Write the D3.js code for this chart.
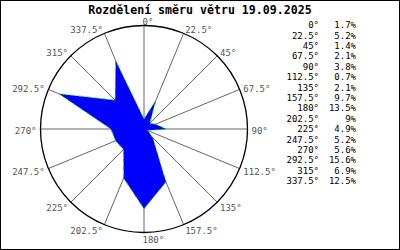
<!DOCTYPE html>
<html><head><meta charset="utf-8">
<script src="https://cdn.jsdelivr.net/npm/d3@7"></script>
<style>body{margin:0;background:#fff}svg{display:block}</style>
</head><body><svg id="c" width="400" height="250"></svg>
<script>
const title = "Rozdělení směru větru 19.09.2025";
const directions = [0, 22.5, 45, 67.5, 90, 112.5, 135, 157.5, 180, 202.5, 225, 247.5, 270, 292.5, 315, 337.5];
const dirLabels = ["0°","22.5°","45°","67.5°","90°","112.5°","135°","157.5°","180°","202.5°","225°","247.5°","270°","292.5°","315°","337.5°"];
const values = [1.7, 5.2, 1.4, 2.1, 3.8, 0.7, 2.1, 9.7, 13.5, 9, 4.9, 5.2, 5.6, 15.6, 6.9, 12.5];
const valueLabels = ["1.7%","5.2%","1.4%","2.1%","3.8%","0.7%","2.1%","9.7%","13.5%","9%","4.9%","5.2%","5.6%","15.6%","6.9%","12.5%"];

const svg = d3.select("#c");
const W = 400, H = 250;
const cx = 144, cy = 129, R = 103.5;
const r = d3.scaleLinear().domain([0, 17.5]).range([0, R]);
const ang = d3.scaleLinear().domain([0, 360]).range([0, 2 * Math.PI]);
const font = "'DejaVu Sans Mono', monospace";

svg.append("rect").attr("x", 0.5).attr("y", 0.5).attr("width", W - 1).attr("height", H - 1)
  .attr("fill", "#fff").attr("stroke", "#000");

svg.append("text").attr("x", 200).attr("y", 14).attr("text-anchor", "middle")
  .attr("font-family", font).attr("font-weight", "bold").attr("font-size", 11.6)
  .attr("fill", "#000").text(title);

const g = svg.append("g").attr("transform", `translate(${cx},${cy})`);

// spokes
g.selectAll("line.spoke").data(directions).join("line").attr("class", "spoke")
  .attr("x1", 0).attr("y1", 0)
  .attr("x2", d => R * Math.sin(ang(d)))
  .attr("y2", d => -R * Math.cos(ang(d)))
  .attr("stroke", "#666").attr("stroke-width", 1);

// data polygon
const line = d3.lineRadial().angle((d, i) => ang(directions[i])).radius(d => r(d)).curve(d3.curveLinearClosed);
g.append("path").datum(values).attr("d", line).attr("fill", "#0000ff").attr("stroke", "none");
g.append("path").datum(values).attr("d", line).attr("fill", "none")
  .attr("stroke", "#00dd00").attr("stroke-width", 1).attr("stroke-dasharray", "3,5");

// outer circle
g.append("circle").attr("r", R).attr("fill", "none").attr("stroke", "#000").attr("stroke-width", 1.3);

// direction labels
g.selectAll("text.dl").data(directions).join("text").attr("class", "dl")
  .attr("font-family", font).attr("font-size", 9).attr("fill", "#555")
  .attr("text-anchor", d => { const s = Math.sin(ang(d)); return s < -0.01 ? "end" : "start"; })
  .attr("x", d => { const s = Math.sin(ang(d)); const px = R * s; return Math.abs(s) < 0.01 ? px - 1.5 : px + s * 4; })
  .attr("y", d => { const c = Math.cos(ang(d)); return -R * c - c * 5.5 + 1.5; })
  .attr("dominant-baseline", "central")
  .text((d, i) => dirLabels[i]);

// legend table
const leg = svg.append("g");
const ly = d3.scaleBand().domain(d3.range(directions.length)).range([20, 20 + 16 * 10.4]);
leg.selectAll("text.la").data(dirLabels).join("text").attr("class", "la")
  .attr("x", 319).attr("y", (d, i) => ly(i) + 5.2).attr("text-anchor", "end")
  .attr("dominant-baseline", "central")
  .attr("font-family", font).attr("font-size", 9).attr("fill", "#000").text(d => d);
leg.selectAll("text.lv").data(valueLabels).join("text").attr("class", "lv")
  .attr("x", 356).attr("y", (d, i) => ly(i) + 5.2).attr("text-anchor", "end")
  .attr("dominant-baseline", "central")
  .attr("font-family", font).attr("font-size", 9).attr("fill", "#000").text(d => d);
</script></body></html>
